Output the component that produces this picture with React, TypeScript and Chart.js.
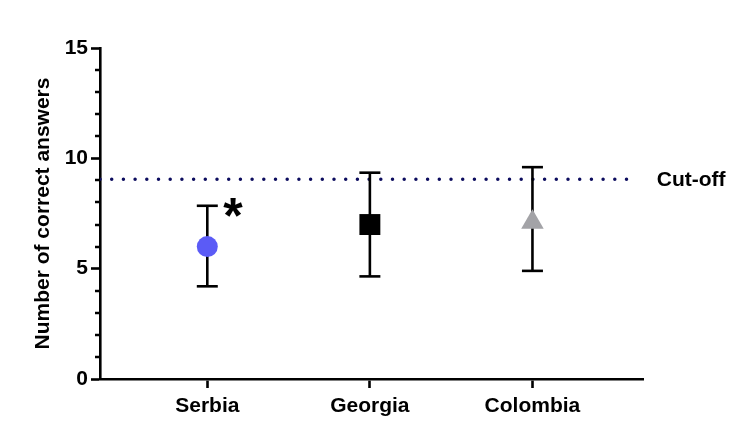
import React, { useEffect, useRef } from 'react';
import { Chart, registerables } from 'chart.js';

Chart.register(...registerables);

// ---- data ----
const categories = ['Serbia', 'Georgia', 'Colombia'];
const means = [6.0, 7.0, 7.1];
const upperErr = [7.85, 9.35, 9.6];
const lowerErr = [4.2, 4.65, 4.9];
const markerStyles = ['circle', 'rect', 'triangle'];
const markerColors = ['#5b5bf6', '#000000', '#a3a3a7'];
const markerRadii = [10.5, 14.8, 13];
const significance = ['*', '', ''];
const cutoffValue = 9.05;
const cutoffLabel = 'Cut-off';
const cutoffRange = [-0.66, 2.58];
const yTitle = 'Number of correct answers';
const yMin = 0;
const yMax = 15;
const yMajorStep = 5;
const yMinorStep = 1;
const xRange = [-0.66, 2.68];

const FONT = "'Liberation Sans', Arial, Helvetica, sans-serif";

const extrasPlugin = {
  id: 'extras',
  afterDraw(chart: any) {
    const { ctx } = chart;
    const x = chart.scales.x;
    const y = chart.scales.y;
    ctx.save();
    // minor y ticks
    ctx.strokeStyle = '#000';
    ctx.lineWidth = 2.5;
    for (let v = yMin; v <= yMax; v += yMinorStep) {
      if (v % yMajorStep === 0) continue;
      const py = Math.round(y.getPixelForValue(v));
      ctx.beginPath();
      ctx.moveTo(x.left - 5, py);
      ctx.lineTo(x.left, py);
      ctx.stroke();
    }
    // cut-off label
    ctx.fillStyle = '#000';
    ctx.font = `bold 21px ${FONT}`;
    ctx.textAlign = 'left';
    ctx.textBaseline = 'middle';
    ctx.fillText(cutoffLabel, x.getPixelForValue(cutoffRange[1]) + 30, y.getPixelForValue(cutoffValue) + 1);
    // significance marks
    ctx.font = `bold 50px ${FONT}`;
    ctx.textAlign = 'left';
    ctx.textBaseline = 'alphabetic';
    significance.forEach((s, i) => {
      if (!s) return;
      const m = ctx.measureText(s);
      const w = m.actualBoundingBoxRight + m.actualBoundingBoxLeft;
      const h = m.actualBoundingBoxAscent + m.actualBoundingBoxDescent;
      const cx = x.getPixelForValue(i) + 26;
      const cy = y.getPixelForValue(upperErr[i]) + 2;
      ctx.fillText(s, cx - w / 2 + m.actualBoundingBoxLeft, cy - h / 2 + m.actualBoundingBoxAscent);
    });
    ctx.restore();
  },
};

export default function App() {
  const ref = useRef<HTMLCanvasElement>(null);
  useEffect(() => {
    if (!ref.current) return;
    const errorSets = categories.map((_, i) => ({
      type: 'line' as const,
      data: [
        { x: i, y: lowerErr[i] },
        { x: i, y: upperErr[i] },
      ],
      borderColor: '#000',
      borderWidth: 2.6,
      pointStyle: 'line' as const,
      pointRadius: 10.5,
      pointBorderWidth: 2.6,
      pointBorderColor: '#000',
      pointHoverRadius: 10.5,
    }));
    const chart = new Chart(ref.current, {
      type: 'scatter',
      data: {
        datasets: [
          {
            type: 'scatter' as const,
            data: categories.map((_, i) => ({ x: i, y: means[i] })),
            pointStyle: markerStyles as any,
            backgroundColor: markerColors,
            borderColor: markerColors,
            borderWidth: 0,
            pointRadius: markerRadii,
            pointHoverRadius: markerRadii,
          },
          ...errorSets,
          {
            type: 'line' as const,
            data: cutoffRange.map((v) => ({ x: v, y: cutoffValue })),
            borderColor: '#0c0c5e',
            borderWidth: 3.5,
            borderDash: [0, 11.7],
            borderCapStyle: 'round',
            pointRadius: 0,
          },
        ] as any,
      },
      options: {
        animation: false,
        responsive: false,
        maintainAspectRatio: false,
        events: [],
        layout: { padding: { left: 0, top: 48, right: 113, bottom: 0 } },
        plugins: { legend: { display: false }, tooltip: { enabled: false } },
        scales: {
          x: {
            type: 'linear',
            min: xRange[0],
            max: xRange[1],
            afterBuildTicks: (s: any) => {
              s.ticks = categories.map((_, i) => ({ value: i }));
            },
            afterFit: (s: any) => {
              s.height = 66;
            },
            ticks: {
              callback: (v: any) => categories[v] ?? '',
              color: '#000',
              font: { family: FONT, size: 21, weight: 'bold' },
              padding: 6,
              maxRotation: 0,
            },
            grid: { drawOnChartArea: false, tickLength: 9, tickWidth: 2.6, tickColor: '#000' },
            border: { color: '#000', width: 2.6 },
          },
          y: {
            min: yMin,
            max: yMax,
            afterFit: (s: any) => {
              s.width = 100;
            },
            ticks: {
              stepSize: yMajorStep,
              color: '#000',
              font: { family: FONT, size: 21, weight: 'bold' },
              padding: 3,
            },
            grid: { drawOnChartArea: false, tickLength: 9, tickWidth: 2.6, tickColor: '#000' },
            border: { color: '#000', width: 2.6 },
            title: {
              display: true,
              text: yTitle,
              color: '#000',
              font: { family: FONT, size: 21, weight: 'bold' },
              padding: { top: 31, bottom: 0 },
            },
          },
        },
      },
      plugins: [extrasPlugin],
    });
    return () => chart.destroy();
  }, []);
  return (
    <div style={{ position: 'fixed', left: 0, top: 0, width: 756, height: 445, background: '#fff' }}>
      <canvas ref={ref} width={756} height={445} style={{ display: 'block' }} />
    </div>
  );
}
